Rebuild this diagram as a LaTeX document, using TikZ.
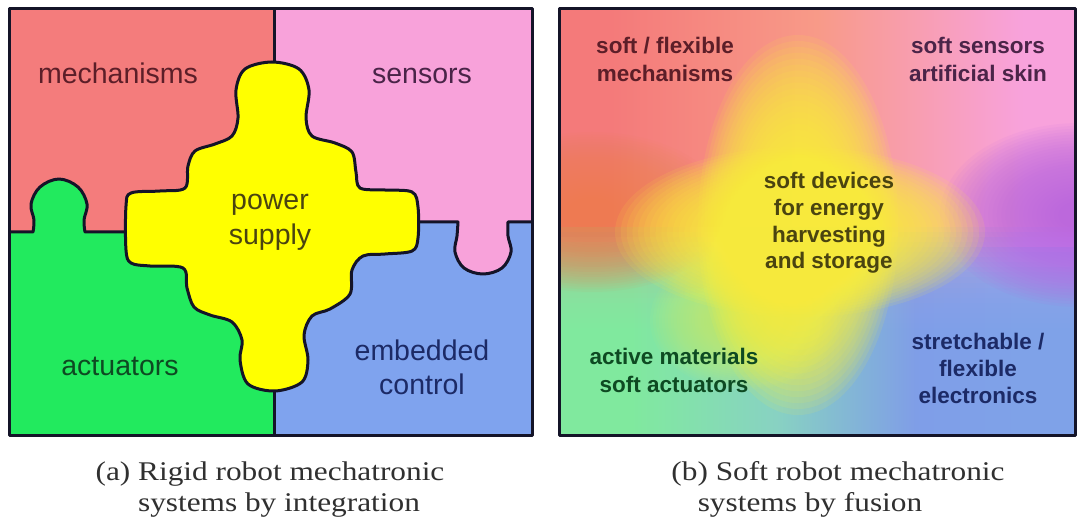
\documentclass[tikz,border=0pt]{standalone}
\usepackage{fontspec}
\setmainfont{Liberation Serif}
\newfontfamily\labelfont{Liberation Sans}
\newfontfamily\capfont[FakeStretch=1.16]{Liberation Serif}

% puzzle colours (rigid system)
\definecolor{mechred}{HTML}{F47C7C}
\definecolor{senspink}{HTML}{F8A2DA}
\definecolor{actgreen}{HTML}{22EA5E}
\definecolor{ctrlblue}{HTML}{7FA3EE}
\definecolor{powyellow}{HTML}{FFFF00}
\definecolor{edgeink}{HTML}{141428}
\definecolor{tmech}{HTML}{5C1E28}
\definecolor{tsens}{HTML}{4A2448}
\definecolor{tpow}{HTML}{4A4410}
\definecolor{tact}{HTML}{0E4A22}
\definecolor{tctrl}{HTML}{1C2A66}
\definecolor{tcap}{HTML}{303030}

% blended colours (soft system)
\definecolor{fRed}{HTML}{F47A7A}
\definecolor{fSalmon}{HTML}{F89A88}
\definecolor{fPink}{HTML}{F8A2DC}
\definecolor{fMint}{HTML}{80F0A4}
\definecolor{fCyan}{HTML}{88D8C8}
\definecolor{fBlue}{HTML}{7EA2EE}
\definecolor{fYellow}{HTML}{FFF23C}
\definecolor{fLime}{HTML}{D8F860}
\definecolor{fPurple}{HTML}{BC68E4}
\definecolor{fOrange}{HTML}{EE8452}

\pgfdeclarehorizontalshading{topband}{100bp}{color(0bp)=(fRed); color(30bp)=(fRed); color(50bp)=(fSalmon); color(70bp)=(fPink); color(100bp)=(fPink)}
\pgfdeclarehorizontalshading{botband}{100bp}{color(0bp)=(fMint); color(32bp)=(fMint); color(46bp)=(fCyan); color(60bp)=(fBlue); color(100bp)=(fBlue)}

\tikzset{
  edgeline/.style={draw=edgeink, line width=3pt, line join=round},
  bigword/.style={font=\labelfont\fontsize{28.5}{35}\selectfont, anchor=base, inner sep=0pt},
  boldword/.style={font=\labelfont\bfseries\fontsize{22.5}{27}\selectfont, anchor=base, inner sep=0pt},
  capword/.style={font=\capfont\fontsize{27}{31}\selectfont, text=tcap, anchor=base, inner sep=0pt}
}

% a soft-edged colour cloud: nested ellipses of low opacity
% #1 colour, #2 opacity per layer, #3 centre, #4 x radius, #5 y radius
\newcommand\softcloud[5]{%
  \foreach \k in {1,...,32}{%
    \fill[#1, opacity=#2] #3 ellipse [x radius={#4*\k/32}, y radius={#5*\k/32}];
  }%
}

\begin{document}
\begin{tikzpicture}[x=1pt, y=-1pt]
\useasboundingbox[fill=white] (0,0) rectangle (1081,521);

% ---------- rigid system: puzzle pieces ----------
\fill[mechred]  (9,9)   rectangle (274,232);
\fill[senspink] (274,9) rectangle (532,222);
\fill[actgreen] (9,232) rectangle (274,435);
\fill[ctrlblue] (274,222) rectangle (532,435);
% knob of the actuator piece
\fill[actgreen] plot[smooth, tension=0.6] coordinates {(33,233) (34,220) (31,204) (40,187) (59,179) (78,187) (87,204) (84,220) (85,233)} -- cycle;
% knob of the sensor piece
\fill[senspink] plot[smooth, tension=0.6] coordinates {(458,221) (457,236) (455,252) (464,268) (483,274) (502,268) (511,252) (508,236) (508,221)} -- cycle;
% seams between pieces
\draw[edgeline] (274,9) -- (274,435);
\draw[edgeline] (9,232) -- plot[smooth, tension=0.6] coordinates {(33,232) (34,220) (31,204) (40,187) (59,179) (78,187) (87,204) (84,220) (85,232)} -- (130,232);
\draw[edgeline] (414,222) -- plot[smooth, tension=0.6] coordinates {(458,222) (457,236) (455,252) (464,268) (483,274) (502,268) (511,252) (508,236) (508,222)} -- (532,222);
% central power supply piece
\path[edgeline, fill=powyellow] plot[smooth cycle, tension=0.55] coordinates {
  (272,62) (299,69) (309,90) (306,118) (312,136) (335,143) (352,152) (356,172)
  (360,188) (385,190) (412,192) (418,207) (418,238) (412,251) (385,254) (363,256)
  (352,270) (350,294) (330,309) (312,316) (304,335) (308,360) (302,382) (275,391)
  (248,384) (240,360) (242,340) (232,322) (210,315) (194,307) (187,288) (183,268)
  (150,266) (131,263) (126,250) (126,206) (131,193) (160,191) (185,188) (188,166)
  (195,151) (215,144) (232,136) (238,118) (236,90) (245,69)};
\draw[edgeline] (9,9) rectangle (532,435);

\node[bigword, text=tmech] (mech) at (118,84) {mechanisms};
\node[bigword, text=tsens] (sens) at (422,84) {sensors};
\node[bigword, text=tpow] (pow1) at (270,210) {power};
\node[bigword, text=tpow] (pow2) at (270,245) {supply};
\node[bigword, text=tact] (act) at (120,375) {actuators};
\node[bigword, text=tctrl] (ctl1) at (422,360) {embedded};
\node[bigword, text=tctrl] (ctl2) at (422,394) {control};

% ---------- soft system: blended field ----------
\begin{scope}
\clip (559,9) rectangle (1075,435);
% upper colours, left to right
\shade[shading=topband] (559,9) rectangle (1075,435);
% lower colours, faded in downwards by stacked strips
\foreach \k in {0,...,20}{
  \shade[shading=botband, opacity=0.15] (559,{228+\k*5}) rectangle (1075,435);
}
% orange and purple edges, yellow cross in the middle
\softcloud{fOrange}{0.06}{(592,212)}{135pt}{80pt}
\softcloud{fPurple}{0.075}{(1080,215)}{140pt}{92pt}
\softcloud{fLime}{0.05}{(745,320)}{95pt}{70pt}
\softcloud{fYellow}{0.1}{(798,225)}{100pt}{190pt}
\softcloud{fYellow}{0.1}{(800,232)}{185pt}{85pt}
\end{scope}
\draw[edgeline] (559,9) rectangle (1075,435);

\node[boldword, text=tmech] (sm1) at (665,54) {soft / flexible};
\node[boldword, text=tmech] (sm2) at (665,82) {mechanisms};
\node[boldword, text=tsens] (ss1) at (978,54) {soft sensors};
\node[boldword, text=tsens] (ss2) at (978,82) {artificial skin};
\node[boldword, text=tpow] (sd1) at (829,189) {soft devices};
\node[boldword, text=tpow] (sd2) at (829,216) {for energy};
\node[boldword, text=tpow] (sd3) at (829,243) {harvesting};
\node[boldword, text=tpow] (sd4) at (829,269) {and storage};
\node[boldword, text=tact] (sa1) at (674,364) {active materials};
\node[boldword, text=tact] (sa2) at (674,392) {soft actuators};
\node[boldword, text=tctrl] (se1) at (978,349) {stretchable /};
\node[boldword, text=tctrl] (se2) at (978,376) {flexible};
\node[boldword, text=tctrl] (se3) at (978,403) {electronics};

% ---------- captions ----------
\node[capword] (capa1) at (270,480) {(a) Rigid robot mechatronic};
\node[capword] (capb1) at (838,480) {(b) Soft robot mechatronic};
\node[capword] (capa2) at (279,511) {systems by integration};
\node[capword] (capb2) at (810,511) {systems by fusion};
\end{tikzpicture}
\end{document}
